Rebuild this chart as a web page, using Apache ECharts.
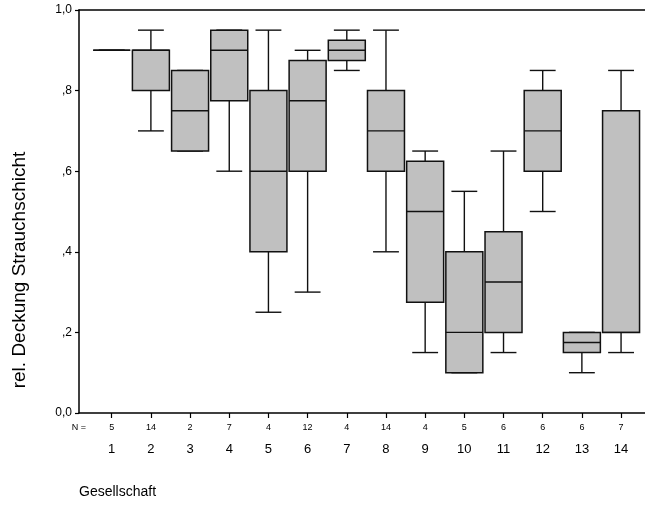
<!DOCTYPE html>
<html><head><meta charset="utf-8">
<script src="https://cdn.jsdelivr.net/npm/echarts@6/dist/echarts.min.js"></script>
<style>html,body{margin:0;padding:0;background:#fff}#c{width:645px;height:510px}</style>
</head><body><div id="c"></div>
<script>
// ---- data ----
const groups = [1, 2, 3, 4, 5, 6, 7, 8, 9, 10, 11, 12, 13, 14];
const nCounts = [5, 14, 2, 7, 4, 12, 4, 14, 4, 5, 6, 6, 6, 7];
const whiskerLow  = [0.90, 0.70, 0.65, 0.60,  0.25, 0.30,  0.85,  0.40, 0.15,  0.10, 0.15,  0.50, 0.10,  0.15];
const quart1      = [0.90, 0.80, 0.65, 0.775, 0.40, 0.60,  0.875, 0.60, 0.275, 0.10, 0.20,  0.60, 0.15,  0.20];
const medians     = [0.90, 0.90, 0.75, 0.90,  0.60, 0.775, 0.90,  0.70, 0.50,  0.20, 0.325, 0.70, 0.175, 0.20];
const quart3      = [0.90, 0.90, 0.85, 0.95,  0.80, 0.875, 0.925, 0.80, 0.625, 0.40, 0.45,  0.80, 0.20,  0.75];
const whiskerHigh = [0.90, 0.95, 0.85, 0.95,  0.95, 0.90,  0.95,  0.95, 0.65,  0.55, 0.65,  0.85, 0.20,  0.85];
const yTickValues = [0, 0.2, 0.4, 0.6, 0.8, 1.0];
const yTickLabels = ['0,0', ',2', ',4', ',6', ',8', '1,0'];
const nLabel = 'N =';
const xTitle = 'Gesellschaft';
const yTitle = 'rel. Deckung Strauchschicht';

// ---- chart ----
const X_MIN = 0.165, X_MAX = 14.611;
const FONT = 'Liberation Sans, Arial, sans-serif';
const boxData = groups.map((g, i) => [g, whiskerLow[i], quart1[i], medians[i], quart3[i], whiskerHigh[i]]);

function renderItem(params, api) {
  const x = api.value(0);
  const unit = api.size([1, 0])[0];
  const bw = unit * 0.944, cw = unit * 0.66;
  const pLow = api.coord([x, api.value(1)]);
  const pQ1 = api.coord([x, api.value(2)]);
  const pMed = api.coord([x, api.value(3)]);
  const pQ3 = api.coord([x, api.value(4)]);
  const pHigh = api.coord([x, api.value(5)]);
  const cx = pMed[0];
  const st = { stroke: '#111', lineWidth: 1.4, fill: null };
  const line = (x1, y1, x2, y2) => ({ type: 'line', shape: { x1, y1, x2, y2 }, style: st });
  return {
    type: 'group',
    children: [
      line(cx, pHigh[1], cx, pQ3[1]),
      line(cx - cw / 2, pHigh[1], cx + cw / 2, pHigh[1]),
      line(cx, pQ1[1], cx, pLow[1]),
      line(cx - cw / 2, pLow[1], cx + cw / 2, pLow[1]),
      { type: 'rect', shape: { x: cx - bw / 2, y: pQ3[1], width: bw, height: pQ1[1] - pQ3[1] },
        style: { fill: '#c0c0c0', stroke: '#111', lineWidth: 1.5 } },
      line(cx - bw / 2, pMed[1], cx + bw / 2, pMed[1])
    ]
  };
}

const chart = echarts.init(document.getElementById('c'), null, { renderer: 'canvas' });
chart.setOption({
  animation: false,
  backgroundColor: '#fff',
  textStyle: { fontFamily: FONT, color: '#000' },
  grid: { left: 79, right: 0, top: 10, bottom: 97, containLabel: false },
  title: { text: xTitle, left: 74, top: 480, textStyle: { fontFamily: FONT, fontSize: 14, fontWeight: 'normal', color: '#000' } },
  graphic: [{
    type: 'text', x: 20, y: 270, rotation: Math.PI / 2,
    style: { text: yTitle, font: '19px Liberation Sans, Arial, sans-serif', fill: '#000', align: 'center', verticalAlign: 'middle' }
  }],
  xAxis: [{
    type: 'value', min: X_MIN, max: X_MAX, position: 'bottom',
    splitLine: { show: false },
    axisLine: { show: true, onZero: false, lineStyle: { color: '#000', width: 1.5 } },
    axisTick: { show: true, length: 5, customValues: groups, lineStyle: { color: '#000', width: 1.2 } },
    axisLabel: {
      show: true, margin: 8, color: '#000', fontFamily: FONT,
      customValues: [X_MIN].concat(groups),
      formatter: function (v) {
        const i = groups.indexOf(Math.round(v));
        if (v < 0.5 || i < 0) return '{n|' + nLabel + '}';
        return '{n|' + nCounts[i] + '}\n{c|' + groups[i] + '}';
      },
      rich: {
        n: { fontSize: 9, lineHeight: 14, fontFamily: FONT, color: '#000' },
        c: { fontSize: 13, lineHeight: 28, fontFamily: FONT, color: '#000' }
      }
    }
  }, {
    type: 'value', min: X_MIN, max: X_MAX, position: 'top',
    splitLine: { show: false }, axisTick: { show: false }, axisLabel: { show: false },
    axisLine: { show: true, onZero: false, lineStyle: { color: '#000', width: 1.5 } }
  }],
  yAxis: {
    type: 'value', min: 0, max: 1, interval: 0.2,
    splitLine: { show: false },
    axisLine: { show: true, onZero: false, lineStyle: { color: '#000', width: 1.5 } },
    axisTick: { show: true, length: 4, lineStyle: { color: '#000', width: 1.2 } },
    axisLabel: {
      margin: 7, fontSize: 12, color: '#000', fontFamily: FONT,
      formatter: function (v) {
        const i = yTickValues.findIndex(t => Math.abs(t - v) < 1e-6);
        return i >= 0 ? yTickLabels[i] : '';
      }
    }
  },
  series: [{
    type: 'custom', xAxisIndex: 0, yAxisIndex: 0,
    renderItem: renderItem,
    encode: { x: 0, y: [1, 2, 3, 4, 5] },
    data: boxData,
    clip: false
  }]
});
</script>
</body></html>
